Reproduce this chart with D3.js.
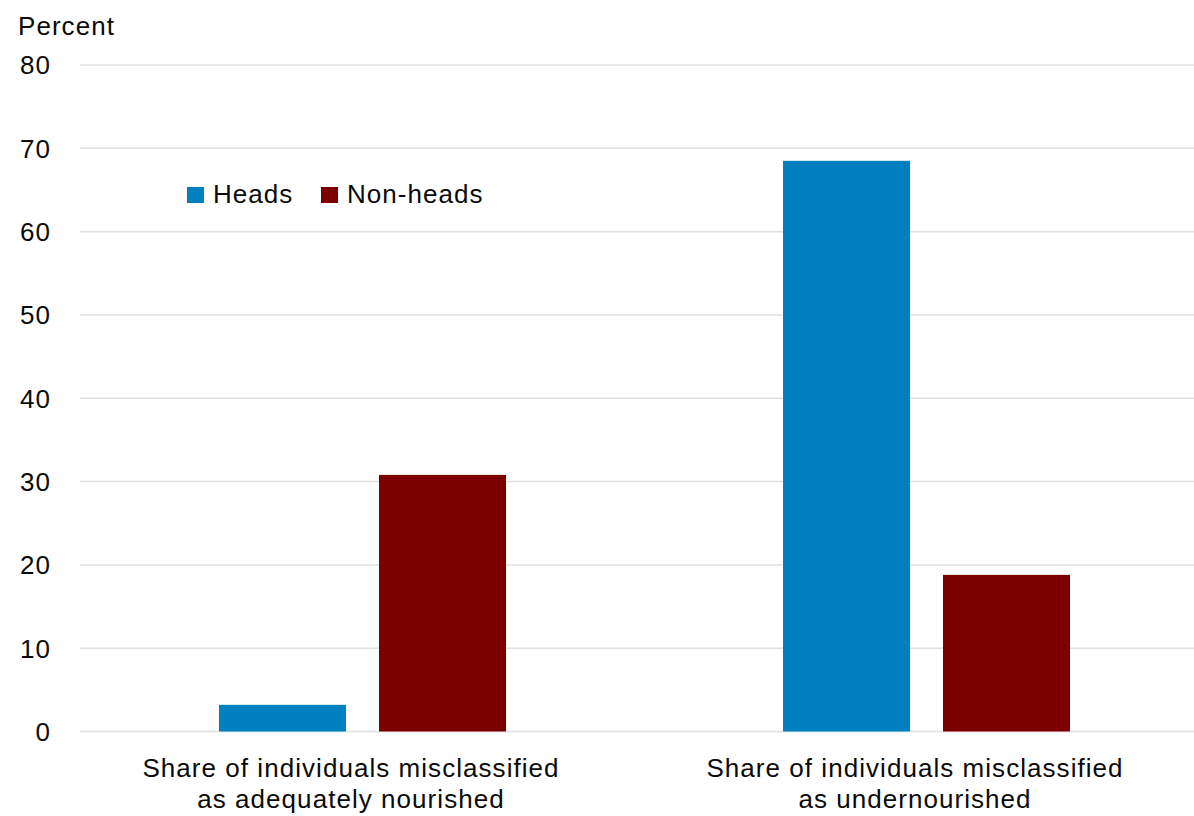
<!DOCTYPE html>
<html>
<head>
<meta charset="utf-8">
<script src="https://cdn.jsdelivr.net/npm/d3@7"></script>
<style>
  body { margin: 0; background: #fff; }
  text { font-family: "Liberation Sans", Arial, sans-serif; fill: #0a0a0a; }
</style>
</head>
<body>
<div id="chart"></div>
<script>
// data
var categories = [
    ["Share of individuals misclassified", "as adequately nourished"],
    ["Share of individuals misclassified", "as undernourished"]
];
var seriesNames = ["Heads", "Non-heads"];
var headsValues = [3.2, 68.5];
var nonHeadsValues = [30.8, 18.8];
var yTicks = [0, 10, 20, 30, 40, 50, 60, 70, 80];
var colors = ["#0080c0", "#7d0000"];

var W = 1194, H = 816;
var svg = d3.select("#chart").append("svg")
    .attr("width", W)
    .attr("height", H);

var y = d3.scaleLinear().domain([0, 80]).range([731.5, 65]);

var x0 = d3.scaleBand()
    .domain(d3.range(categories.length))
    .range([81, 1209]);

var x1 = d3.scaleBand()
    .domain(seriesNames)
    .range([0, x0.bandwidth()])
    .paddingInner(0.2)
    .paddingOuter(0.8625);

// gridlines
svg.append("g").selectAll("line")
    .data(yTicks)
    .enter().append("line")
    .attr("x1", 80)
    .attr("x2", W)
    .attr("y1", function (d) { return y(d); })
    .attr("y2", function (d) { return y(d); })
    .style("stroke", "#e0e0e0")
    .style("stroke-width", 1.5);

// y tick labels
svg.append("g").selectAll("text")
    .data(yTicks)
    .enter().append("text")
    .attr("x", 51)
    .attr("y", function (d) { return y(d); })
    .attr("dy", "0.36em")
    .attr("text-anchor", "end")
    .style("font-size", "26px")
    .style("letter-spacing", "1px")
    .text(function (d) { return d; });

svg.append("text")
    .attr("x", 18)
    .attr("y", 35)
    .style("font-size", "26px")
    .style("letter-spacing", "1.05px")
    .text("Percent");

// bars
var rows = categories.map(function (c, i) {
    return { i: i, values: [headsValues[i], nonHeadsValues[i]] };
});

var group = svg.append("g").selectAll("g")
    .data(rows)
    .enter().append("g")
    .attr("transform", function (d) { return "translate(" + x0(d.i) + ",0)"; });

group.selectAll("rect")
    .data(function (d) {
        return d.values.map(function (v, k) { return { name: seriesNames[k], value: v, k: k }; });
    })
    .enter().append("rect")
    .attr("x", function (d) { return x1(d.name); })
    .attr("width", x1.bandwidth() - 1)
    .attr("y", function (d) { return y(d.value); })
    .attr("height", function (d) { return y(0) - y(d.value); })
    .style("fill", function (d) { return colors[d.k]; });

// category labels
var labels = svg.append("g").selectAll("text")
    .data(categories)
    .enter().append("text")
    .attr("text-anchor", "middle")
    .attr("x", function (d, i) { return x0(i) + x0.bandwidth() / 2 - 12; })
    .attr("y", 777)
    .style("font-size", "26px")
    .style("letter-spacing", "1.05px");

labels.selectAll("tspan")
    .data(function (d) { return d; })
    .enter().append("tspan")
    .attr("x", function () { return d3.select(this.parentNode).attr("x"); })
    .attr("dy", function (d, j) { return j === 0 ? 0 : 31; })
    .text(function (d) { return d; });

// legend
var legend = svg.append("g").selectAll("g")
    .data(seriesNames)
    .enter().append("g")
    .attr("transform", function (d, i) { return "translate(" + [187, 321][i] + ",187)"; });

legend.append("rect")
    .attr("width", 17)
    .attr("height", 16)
    .style("fill", function (d, i) { return colors[i]; });

legend.append("text")
    .attr("x", 26)
    .attr("y", 16)
    .style("font-size", "26px")
    .style("letter-spacing", "1.05px")
    .text(function (d) { return d; });
</script>
</body>
</html>
